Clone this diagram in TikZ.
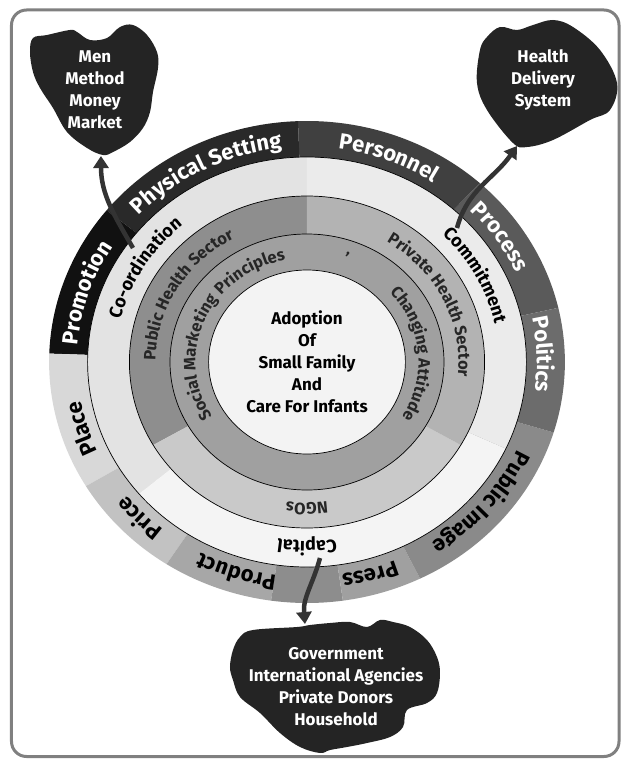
\documentclass[tikz,border=0pt]{standalone}
\usepackage{fontspec}
\setmainfont{Fira Sans}
\usetikzlibrary{decorations.text,arrows.meta}

\definecolor{framegray}{HTML}{808080}
\definecolor{blobgray}{HTML}{242424}
\definecolor{linkgray}{HTML}{333333}

\newcommand\outerfont{\bfseries\fontsize{22}{22}\selectfont}
\newcommand\midfont{\bfseries\fontsize{18}{18}\selectfont}
\newcommand\sectorfont{\bfseries\fontsize{16.5}{16.5}\selectfont}

\tikzset{
  frame/.style={draw=framegray, line width=3pt, rounded corners=15pt},
  ringline/.style={draw=black, line width=0.7pt},
  blob/.style={fill=blobgray},
  blobtext/.style={text=white, align=center, font=\bfseries\fontsize{17}{22}\selectfont},
  goaltext/.style={text=black, align=center, font=\bfseries\fontsize{17}{22}\selectfont},
  link/.style={draw=linkgray, line width=4.5pt, -{Triangle[width=15pt,length=12pt]}},
  outerlabel/.style 2 args={decorate, decoration={text along path, text align=center,
      text color=#1, text={|\outerfont|#2}}},
  midlabel/.style={decorate, decoration={text along path, text align=center,
      text color=black, text={|\midfont|#1}}},
  sectorlabel/.style={decorate, decoration={text along path, text align=center,
      text color=black!85, text={|\sectorfont|#1}}}
}

\begin{document}
\begin{tikzpicture}[x=1pt,y=1pt]
\useasboundingbox (-307,-399) rectangle (314,362);
\draw[frame] (-295.5,-394.5) rectangle (312,352);

% outer ring
\fill[fill={rgb,255:red,90;green,90;blue,90}] (0,0) -- (13:257.9pt and 241pt) arc[start angle=13, end angle=48, x radius=257.9pt, y radius=241pt] -- cycle;
\fill[fill={rgb,255:red,64;green,64;blue,64}] (0,0) -- (48:257.9pt and 241pt) arc[start angle=48, end angle=92, x radius=257.9pt, y radius=241pt] -- cycle;
\fill[fill={rgb,255:red,41;green,41;blue,41}] (0,0) -- (92:257.9pt and 241pt) arc[start angle=92, end angle=141, x radius=257.9pt, y radius=241pt] -- cycle;
\fill[fill={rgb,255:red,17;green,17;blue,17}] (0,0) -- (141:257.9pt and 241pt) arc[start angle=141, end angle=178, x radius=257.9pt, y radius=241pt] -- cycle;
\fill[fill={rgb,255:red,216;green,216;blue,216}] (0,0) -- (178:257.9pt and 241pt) arc[start angle=178, end angle=211, x radius=257.9pt, y radius=241pt] -- cycle;
\fill[fill={rgb,255:red,194;green,194;blue,194}] (0,0) -- (211:257.9pt and 241pt) arc[start angle=211, end angle=237, x radius=257.9pt, y radius=241pt] -- cycle;
\fill[fill={rgb,255:red,167;green,167;blue,167}] (0,0) -- (237:257.9pt and 241pt) arc[start angle=237, end angle=262, x radius=257.9pt, y radius=241pt] -- cycle;
\fill[fill={rgb,255:red,141;green,141;blue,141}] (0,0) -- (262:257.9pt and 241pt) arc[start angle=262, end angle=278, x radius=257.9pt, y radius=241pt] -- cycle;
\fill[fill={rgb,255:red,160;green,160;blue,160}] (0,0) -- (278:257.9pt and 241pt) arc[start angle=278, end angle=296, x radius=257.9pt, y radius=241pt] -- cycle;
\fill[fill={rgb,255:red,138;green,138;blue,138}] (0,0) -- (296:257.9pt and 241pt) arc[start angle=296, end angle=343, x radius=257.9pt, y radius=241pt] -- cycle;
\fill[fill={rgb,255:red,108;green,108;blue,108}] (0,0) -- (343:257.9pt and 241pt) arc[start angle=343, end angle=373, x radius=257.9pt, y radius=241pt] -- cycle;

% commitment ring
\fill[fill={rgb,255:red,227;green,227;blue,227}] (0,0) -- (90:219.4pt and 205pt) arc[start angle=90, end angle=220, x radius=219.4pt, y radius=205pt] -- cycle;
\fill[fill={rgb,255:red,244;green,244;blue,244}] (0,0) -- (220:219.4pt and 205pt) arc[start angle=220, end angle=335, x radius=219.4pt, y radius=205pt] -- cycle;
\fill[fill={rgb,255:red,235;green,235;blue,235}] (0,0) -- (-25:219.4pt and 205pt) arc[start angle=-25, end angle=90, x radius=219.4pt, y radius=205pt] -- cycle;
\draw[ringline] (0,0) ellipse[x radius=219.4pt, y radius=205pt];

% sector ring
\fill[fill={rgb,255:red,142;green,142;blue,142}] (0,0) -- (90:177.6pt and 166pt) arc[start angle=90, end angle=210, x radius=177.6pt, y radius=166pt] -- cycle;
\fill[fill={rgb,255:red,201;green,201;blue,201}] (0,0) -- (210:177.6pt and 166pt) arc[start angle=210, end angle=330, x radius=177.6pt, y radius=166pt] -- cycle;
\fill[fill={rgb,255:red,179;green,179;blue,179}] (0,0) -- (-30:177.6pt and 166pt) arc[start angle=-30, end angle=90, x radius=177.6pt, y radius=166pt] -- cycle;
\draw[ringline] (0,0) ellipse[x radius=177.6pt, y radius=166pt];

% principles ring and core
\draw[ringline, fill={rgb,255:red,160;green,160;blue,160}] (0,0) ellipse[x radius=137pt, y radius=128pt];
\draw[ringline, fill={rgb,255:red,243;green,243;blue,243}] (0,0) ellipse[x radius=98.4pt, y radius=92pt];

\node[goaltext] (goal) at (0,0) {Adoption\\Of\\Small Family\\And\\Care For Infants};

% outer labels
\path[outerlabel={white}{Promotion}] (202:230pt and 215pt) arc[start angle=202, end angle=122, x radius=230pt, y radius=215pt];
\path[outerlabel={white}{Physical Setting}] (157:230pt and 215pt) arc[start angle=157, end angle=77, x radius=230pt, y radius=215pt];
\path[outerlabel={white}{Personnel}] (109:230pt and 215pt) arc[start angle=109, end angle=29, x radius=230pt, y radius=215pt];
\path[outerlabel={white}{Process}] (74:230pt and 215pt) arc[start angle=74, end angle=-6, x radius=230pt, y radius=215pt];
\path[outerlabel={white}{Politics}] (42:230pt and 215pt) arc[start angle=42, end angle=-38, x radius=230pt, y radius=215pt];
\path[outerlabel={black}{Public Image}] (0:230pt and 215pt) arc[start angle=0, end angle=-80, x radius=230pt, y radius=215pt];
\path[outerlabel={black}{Press}] (-34:230pt and 215pt) arc[start angle=-34, end angle=-114, x radius=230pt, y radius=215pt];
\path[outerlabel={black}{Product}] (292:230pt and 215pt) arc[start angle=292, end angle=212, x radius=230pt, y radius=215pt];
\path[outerlabel={black}{Price}] (264:230pt and 215pt) arc[start angle=264, end angle=184, x radius=230pt, y radius=215pt];
\path[outerlabel={black}{Place}] (237:230pt and 215pt) arc[start angle=237, end angle=157, x radius=230pt, y radius=215pt];

% commitment ring labels
\path[midlabel={Co-ordination}] (194:192pt and 179pt) arc[start angle=194, end angle=104, x radius=192pt, y radius=179pt];
\path[midlabel={Commitment}] (73:192pt and 179pt) arc[start angle=73, end angle=-17, x radius=192pt, y radius=179pt];
\path[midlabel={Capital}] (315:192pt and 179pt) arc[start angle=315, end angle=225, x radius=192pt, y radius=179pt];

% sector ring labels
\path[sectorlabel={Public Health Sector}] (210:151.5pt and 141pt) arc[start angle=210, end angle=90, x radius=151.5pt, y radius=141pt];
\path[sectorlabel={Private Health Sector}] (85.5:151.5pt and 141pt) arc[start angle=85.5, end angle=-34.5, x radius=151.5pt, y radius=141pt];
\path[sectorlabel={NGOs}] (330:151.5pt and 141pt) arc[start angle=330, end angle=210, x radius=151.5pt, y radius=141pt];

% principles ring labels
\path[sectorlabel={Social Marketing}] (247.5:111.5pt and 104pt) arc[start angle=247.5, end angle=107.5, x radius=111.5pt, y radius=104pt];
\path[sectorlabel={Principles}] (171.5:111.5pt and 104pt) arc[start angle=171.5, end angle=71.5, x radius=111.5pt, y radius=104pt];
\path[sectorlabel={'}] (100:111.5pt and 104pt) arc[start angle=100, end angle=40, x radius=111.5pt, y radius=104pt];
\path[sectorlabel={Changing Attitude}] (75:111.5pt and 104pt) arc[start angle=75, end angle=-65, x radius=111.5pt, y radius=104pt];

% resource blobs
\fill[blob] plot[smooth cycle, tension=0.6] coordinates {(-274,324) (-260,327) (-237,332) (-230,330) (-217,322) (-200,324) (-187,335) (-174,337) (-160,327) (-150,310) (-149,294) (-154,270) (-157,250) (-164,234) (-177,220) (-194,210) (-204,207) (-220,214) (-240,230) (-254,254) (-267,274) (-274,290) (-277,310)};
\node[blobtext] (means) at (-212,272) {Men\\Method\\Money\\Market};

\fill[blob] plot[smooth cycle, tension=0.6] coordinates {(180,325) (193,335) (210,332) (226,337) (246,342) (266,335) (293,312) (310,279) (303,252) (283,242) (246,222) (220,215) (206,219) (180,252) (170,279) (173,312)};
\node[blobtext] (delivery) at (236,282) {Health\\Delivery\\System};

\fill[blob] plot[smooth cycle, tension=0.6] coordinates {(-67,-275) (-54,-268) (-10,-265) (3,-263) (23,-261) (43,-260) (60,-265) (73,-258) (86,-260) (103,-265) (120,-278) (130,-295) (133,-311) (130,-331) (120,-341) (100,-348) (96,-365) (83,-375) (60,-381) (40,-385) (23,-388) (13,-391) (-7,-385) (-27,-371) (-47,-351) (-67,-335) (-74,-318) (-77,-305) (-74,-288)};
\node[blobtext] (funding) at (29,-325) {Government\\International Agencies\\Private Donors\\Household};

% links
\coordinate (coordtail) at (-174,114);
\coordinate (meanshead) at (-206,206);
\coordinate (committail) at (150,134);
\coordinate (deliveryhead) at (210,216);
\coordinate (capitaltail) at (13,-196);
\coordinate (fundinghead) at (-2,-262);
\draw[link] (coordtail) to[out=120, in=-90] (meanshead);
\draw[link] (committail) to[out=75, in=-125] (deliveryhead);
\draw[link] (capitaltail) to[out=-105, in=95] (fundinghead);
\end{tikzpicture}
\end{document}
